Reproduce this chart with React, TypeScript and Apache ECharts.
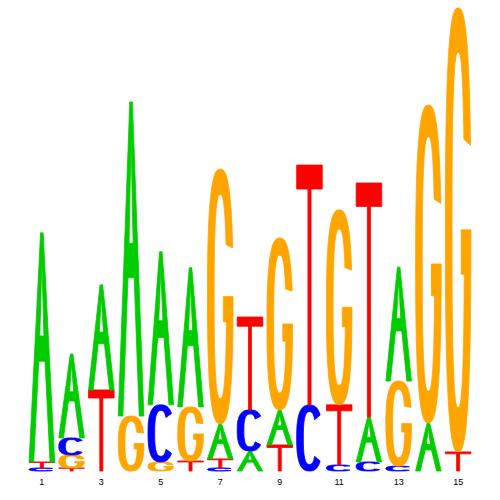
import React, { useEffect, useRef } from "react";
import * as echarts from "echarts";

// Sequence logo data (information content in bits per letter, per position)
const positions = ["1", "2", "3", "4", "5", "6", "7", "8", "9", "10", "11", "12", "13", "14", "15"];
const letters = ["A", "C", "G", "T"];
const heightA = [0.983, 0.36, 0.451, 1.348, 0.657, 0.597, 0.15, 0.086, 0.15, 0, 0, 0.193, 0.489, 0.206, 0];
const heightC = [0.013, 0.073, 0, 0, 0.245, 0, 0.013, 0.176, 0, 0.283, 0.026, 0.039, 0.021, 0, 0];
const heightG = [0, 0.056, 0, 0.236, 0.039, 0.232, 1.094, 0, 0.738, 0, 0.837, 0, 0.365, 1.365, 1.906];
const heightT = [0.026, 0.013, 0.348, 0, 0, 0.043, 0.039, 0.399, 0.112, 1.03, 0.258, 1.004, 0, 0, 0.082];
const letterColors = ["#00cc00", "#0000ff", "#ffa500", "#ff0000"];

type Pt = [number, number];

function area(r: Pt[]) {
  let s = 0;
  for (let i = 0; i < r.length; i++) {
    const a = r[i], b = r[(i + 1) % r.length];
    s += a[0] * b[1] - b[0] * a[1];
  }
  return s / 2;
}
function orient(r: Pt[], positive: boolean): Pt[] {
  const a = area(r);
  if ((a > 0) === positive) return r;
  return r.slice().reverse();
}

const P = 0.75;
function se(t: number, rx: number, ry: number): Pt {
  const c = Math.cos(t), s = Math.sin(t);
  const x = Math.sign(c) * Math.pow(Math.abs(c), P);
  const y = Math.sign(s) * Math.pow(Math.abs(s), P);
  return [0.5 + rx * x, 0.5 + ry * y];
}
const D = Math.PI / 180;
const RXI = 0.24, RYI = 0.4;

function arcPts(a0: number, a1: number, rx: number, ry: number, step = 6): Pt[] {
  const out: Pt[] = [];
  const n = Math.max(2, Math.ceil(Math.abs(a1 - a0) / step));
  for (let i = 0; i <= n; i++) {
    const a = a0 + ((a1 - a0) * i) / n;
    out.push(se(a * D, rx, ry));
  }
  return out;
}

const shapeA: Pt[][] = [
  orient([[0, 0], [0.45, 1], [0.55, 1], [1, 0], [0.82, 0], [0.622, 0.44], [0.378, 0.44], [0.18, 0]], true),
  orient([[0.42, 0.55], [0.5, 0.88], [0.58, 0.55]], false),
];
const shapeC: Pt[][] = [
  [...arcPts(38, 322, 0.5, 0.5), ...arcPts(322, 38, RXI, RYI)],
];
function innerAngleForY(y: number) {
  const ny = (y - 0.5) / RYI;
  const s = Math.sign(ny) * Math.pow(Math.abs(ny), 1 / P);
  return Math.asin(s) / D;
}
const gA = 360 + innerAngleForY(0.4);
const shapeG: Pt[][] = [
  [
    ...arcPts(16, 360, 0.5, 0.5),
    [0.62, 0.5],
    [0.62, 0.4],
    ...arcPts(gA, 24, RXI, RYI),
  ],
];
const shapeT: Pt[][] = [
  [[0, 1], [1, 1], [1, 0.9], [0.56, 0.9], [0.56, 0], [0.44, 0], [0.44, 0.9], [0, 0.9]],
];
const SHAPES = [shapeA, shapeC, shapeG, shapeT];

export default function App() {
  const ref = useRef<HTMLDivElement>(null);
  useEffect(() => {
    if (!ref.current) return;
    const chart = echarts.init(ref.current, null, { renderer: "svg" });
    const all = [heightA, heightC, heightG, heightT];
    const data: number[][] = [];
    positions.forEach((_, i) => {
      const items = letters
        .map((_, li) => ({ li, h: all[li][i] }))
        .filter((d) => d.h > 0)
        .sort((a, b) => a.h - b.h);
      let y = 0;
      items.forEach((d) => {
        data.push([i, y, y + d.h, d.li]);
        y += d.h;
      });
    });
    chart.setOption({
      animation: false,
      grid: { left: 27, right: 27, top: 5, bottom: 29 },
      xAxis: {
        type: "category",
        data: positions,
        boundaryGap: true,
        axisLine: { show: false },
        axisTick: { show: false },
        splitLine: { show: false },
        axisLabel: {
          interval: 1,
          fontSize: 9,
          color: "#000",
          fontFamily: "Liberation Sans",
          margin: 6,
        },
      },
      yAxis: {
        type: "value",
        min: 0,
        max: 2,
        show: false,
        splitLine: { show: false },
      },
      series: [
        {
          type: "custom",
          data,
          encode: { x: 0, y: [1, 2] },
          renderItem: (params: any, api: any) => {
            const idx = api.value(0);
            const y0 = api.value(1);
            const y1 = api.value(2);
            const li = api.value(3);
            const pb = api.coord([idx, y0]);
            const pt = api.coord([idx, y1]);
            const bw = api.size([1, 0])[0] * 0.86;
            const left = pb[0] - bw / 2;
            const h = pb[1] - pt[1];
            let d = "";
            SHAPES[li].forEach((ring) => {
              ring.forEach((p, k) => {
                const X = left + p[0] * bw;
                const Y = pb[1] - p[1] * h;
                d += (k ? "L" : "M") + X.toFixed(2) + " " + Y.toFixed(2);
              });
              d += "Z";
            });
            return {
              type: "path",
              shape: { pathData: d },
              style: { fill: letterColors[li], stroke: letterColors[li], lineWidth: 0.8 },
            };
          },
        },
      ],
    });
    return () => chart.dispose();
  }, []);
  return (
    <div
      ref={ref}
      style={{ position: "fixed", left: 0, top: 0, width: 500, height: 500, background: "#fff" }}
    />
  );
}
